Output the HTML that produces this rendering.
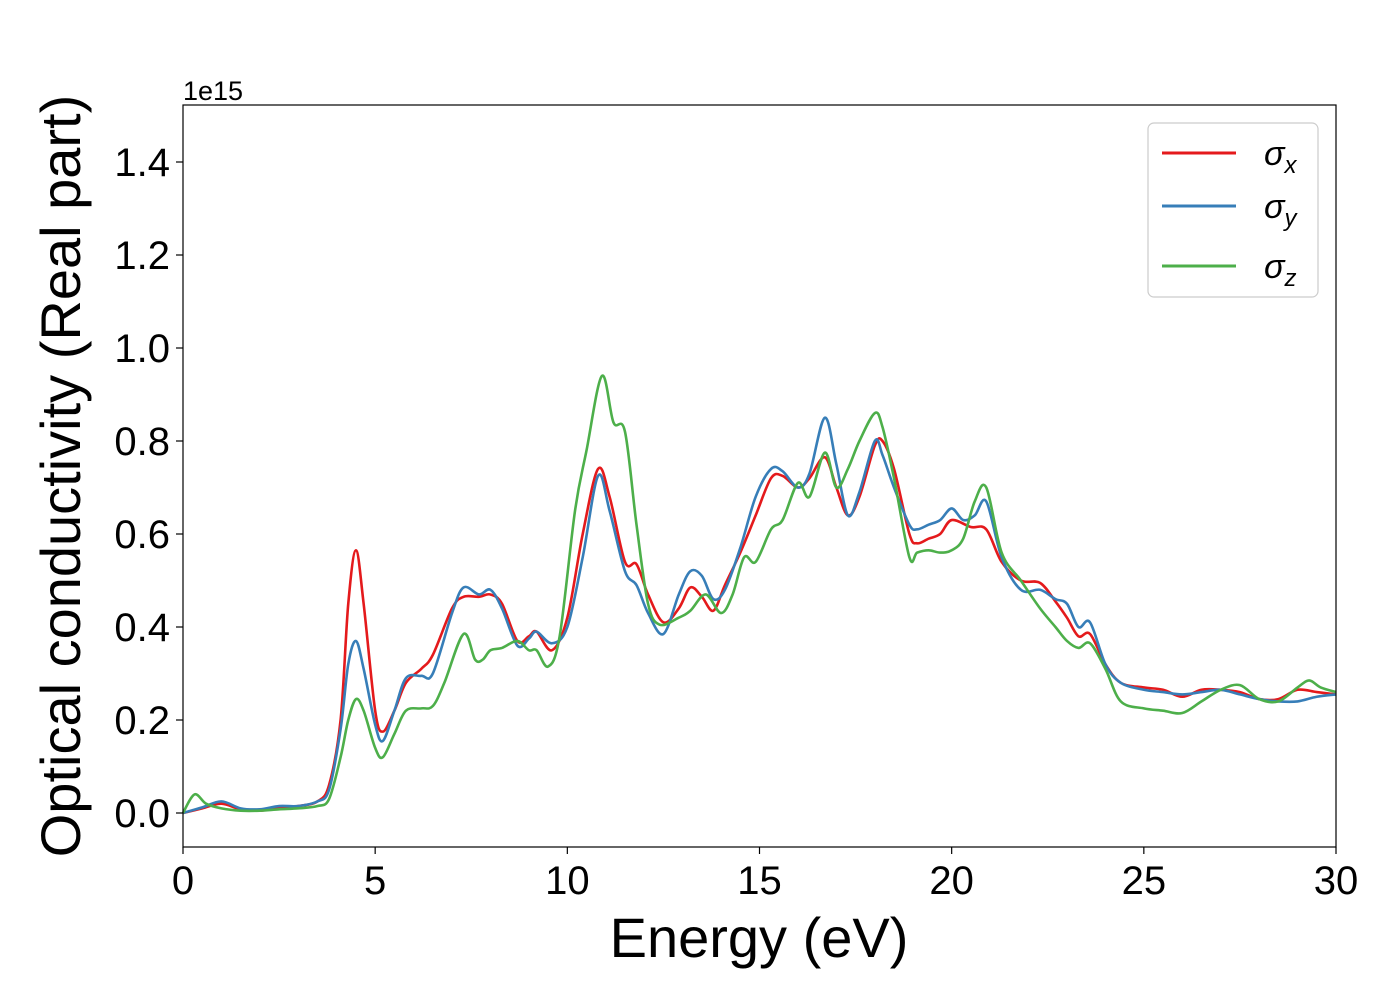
<!DOCTYPE html>
<html><head><meta charset="utf-8"><style>
html,body{margin:0;padding:0;background:#fff;}
svg{display:block;font-family:"Liberation Sans","DejaVu Sans",sans-serif;}
</style></head><body>
<svg id="chart" width="1400" height="1000" viewBox="0 0 1400 1000">
<rect width="1400" height="1000" fill="#fff"/>
<g id="ticks"></g>
<g id="series"></g>
<rect x="183" y="105" width="1153" height="742" fill="none" stroke="#000" stroke-width="1.2"/>
<text x="183" y="100" font-size="27">1e15</text>
<text x="759" y="957" font-size="56" text-anchor="middle">Energy (eV)</text>
<text transform="translate(80,476) rotate(-90)" font-size="56" text-anchor="middle">Optical conductivity (Real part)</text>
<g>
<rect x="1148" y="123" width="170" height="174" rx="6" fill="#fff" fill-opacity="0.8" stroke="#ccc" stroke-width="1.2"/>
<g><line x1="1162" y1="153" x2="1236" y2="153" stroke="#e41a1c" stroke-width="3"/><text x="1264" y="165" font-size="34" font-style="italic">σ<tspan font-size="24" dy="8">x</tspan></text></g>
<g><line x1="1162" y1="206" x2="1236" y2="206" stroke="#377eb8" stroke-width="3"/><text x="1264" y="218" font-size="34" font-style="italic">σ<tspan font-size="24" dy="8">y</tspan></text></g>
<g><line x1="1162" y1="266" x2="1236" y2="266" stroke="#4daf4a" stroke-width="3"/><text x="1264" y="278" font-size="34" font-style="italic">σ<tspan font-size="24" dy="8">z</tspan></text></g>
</g>
</svg>
<script>
const xTicks=[0,5,10,15,20,25,30];
const yTicks=[0.0,0.2,0.4,0.6,0.8,1.0,1.2,1.4];
const yTickLabels=["0.0","0.2","0.4","0.6","0.8","1.0","1.2","1.4"];
const energyX=[0,0.5,1,1.5,2,2.5,3,3.5,3.8,4.1,4.3,4.5,4.7,5,5.2,5.5,5.8,6.2,6.5,7,7.3,7.7,8,8.3,8.7,9,9.2,9.6,10,10.4,10.8,11.1,11.5,11.8,12.1,12.5,12.9,13.2,13.5,13.8,14.1,14.5,14.9,15.3,15.6,16,16.3,16.7,17,17.3,17.6,18,18.2,18.5,18.9,19.1,19.4,19.7,20,20.5,20.9,21.3,21.8,22.3,22.7,23,23.3,23.6,24,24.4,25,25.5,26,26.5,27,27.5,28,28.5,29,29.5,30];
const sigmaX=[0,0.01,0.02,0.008,0.005,0.012,0.015,0.025,0.06,0.2,0.45,0.565,0.45,0.22,0.175,0.22,0.28,0.31,0.34,0.44,0.465,0.465,0.47,0.45,0.37,0.38,0.39,0.35,0.42,0.6,0.74,0.68,0.54,0.535,0.47,0.41,0.44,0.485,0.465,0.435,0.49,0.56,0.64,0.72,0.725,0.70,0.72,0.765,0.70,0.64,0.68,0.79,0.80,0.74,0.60,0.58,0.59,0.60,0.63,0.615,0.61,0.54,0.50,0.495,0.455,0.42,0.38,0.385,0.32,0.28,0.27,0.265,0.25,0.265,0.265,0.26,0.245,0.245,0.265,0.26,0.255];
const energyY=[0,0.5,1,1.5,2,2.5,3,3.5,3.8,4.1,4.3,4.5,4.7,5,5.2,5.5,5.8,6.2,6.5,7,7.3,7.7,8,8.3,8.7,9,9.2,9.6,10,10.4,10.8,11.1,11.5,11.8,12.1,12.5,12.9,13.2,13.5,13.8,14.1,14.5,14.9,15.3,15.6,16,16.3,16.7,17,17.3,17.6,18,18.2,18.5,18.9,19.1,19.4,19.7,20,20.3,20.6,20.9,21.3,21.8,22.3,22.7,23,23.3,23.6,24,24.4,25,25.5,26,26.5,27,27.5,28,28.5,29,29.5,30];
const sigmaY=[0,0.012,0.025,0.01,0.008,0.015,0.015,0.025,0.05,0.18,0.32,0.37,0.31,0.19,0.155,0.22,0.29,0.295,0.30,0.43,0.485,0.47,0.48,0.44,0.36,0.375,0.39,0.365,0.40,0.55,0.725,0.65,0.52,0.49,0.43,0.385,0.47,0.52,0.51,0.46,0.48,0.57,0.68,0.74,0.735,0.70,0.73,0.85,0.75,0.64,0.69,0.80,0.77,0.70,0.62,0.61,0.62,0.63,0.655,0.63,0.64,0.67,0.55,0.48,0.48,0.46,0.45,0.40,0.41,0.32,0.28,0.265,0.26,0.255,0.26,0.265,0.255,0.245,0.24,0.24,0.25,0.255];
const energyZ=[0,0.3,0.6,1,1.5,2,2.5,3,3.5,3.8,4.1,4.3,4.5,4.7,5,5.2,5.5,5.8,6.2,6.5,6.8,7.3,7.6,7.8,8,8.3,8.7,9,9.2,9.5,9.8,10.2,10.5,10.9,11.2,11.5,11.8,12.1,12.4,12.9,13.2,13.6,14,14.3,14.6,14.9,15.3,15.6,16,16.3,16.7,17,17.3,17.6,18,18.2,18.5,18.9,19.1,19.4,19.7,20,20.3,20.6,20.9,21.3,21.8,22.3,22.7,23,23.3,23.6,24,24.4,25,25.5,26,26.5,27,27.5,28,28.5,29,29.3,29.6,30];
const sigmaZ=[0,0.04,0.02,0.01,0.005,0.005,0.008,0.01,0.015,0.03,0.12,0.2,0.245,0.22,0.14,0.12,0.17,0.22,0.225,0.23,0.28,0.385,0.33,0.33,0.35,0.355,0.37,0.35,0.35,0.315,0.38,0.65,0.78,0.94,0.84,0.82,0.62,0.45,0.405,0.42,0.435,0.47,0.43,0.47,0.55,0.54,0.61,0.63,0.71,0.68,0.775,0.70,0.74,0.80,0.86,0.83,0.72,0.55,0.56,0.565,0.56,0.565,0.59,0.67,0.70,0.56,0.50,0.44,0.40,0.37,0.355,0.365,0.31,0.24,0.225,0.22,0.215,0.24,0.265,0.275,0.245,0.24,0.27,0.285,0.27,0.26];

const NS='http://www.w3.org/2000/svg';
function xs(e){return 183+e*(1336-183)/30;}
function ys(v){return 813-v*465;}
const tg=document.getElementById('ticks');
xTicks.forEach(t=>{
 const l=document.createElementNS(NS,'line');
 l.setAttribute('x1',xs(t));l.setAttribute('x2',xs(t));l.setAttribute('y1',847);l.setAttribute('y2',854);l.setAttribute('stroke','#000');l.setAttribute('stroke-width','1.2');
 
 
 tg.appendChild(l);
 const tx=document.createElementNS(NS,'text');
 tx.setAttribute('x',xs(t));tx.setAttribute('y',894);tx.setAttribute('font-size','40');tx.setAttribute('text-anchor','middle');
 tx.textContent=t;
 
 
 tg.appendChild(tx);
});
yTicks.forEach((t,i)=>{
 const l=document.createElementNS(NS,'line');
 l.setAttribute('x1',176);l.setAttribute('x2',183);l.setAttribute('y1',ys(t));l.setAttribute('y2',ys(t));l.setAttribute('stroke','#000');l.setAttribute('stroke-width','1.2');
 
 
 tg.appendChild(l);
 const tx=document.createElementNS(NS,'text');
 tx.setAttribute('x',170);tx.setAttribute('y',ys(t)+14);tx.setAttribute('font-size','40');tx.setAttribute('text-anchor','end');
 tx.textContent=yTickLabels[i];
 
 
 tg.appendChild(tx);
});
function smoothPath(ex,vy){
 const p=ex.map((e,i)=>[xs(e),ys(vy[i])]);
 let d='M'+p[0][0].toFixed(2)+','+p[0][1].toFixed(2);
 for(let i=0;i<p.length-1;i++){
  const p0=p[Math.max(0,i-1)],p1=p[i],p2=p[i+1],p3=p[Math.min(p.length-1,i+2)];
  const c1=[p1[0]+(p2[0]-p0[0])/6,p1[1]+(p2[1]-p0[1])/6];
  const c2=[p2[0]-(p3[0]-p1[0])/6,p2[1]-(p3[1]-p1[1])/6];
  d+=' C'+c1.map(v=>v.toFixed(2)).join(',')+' '+c2.map(v=>v.toFixed(2)).join(',')+' '+p2.map(v=>v.toFixed(2)).join(',');
 }
 return d;
}
const sg=document.getElementById('series');
[[energyX,sigmaX,'#e41a1c','series-sigma-x'],[energyY,sigmaY,'#377eb8','series-sigma-y'],[energyZ,sigmaZ,'#4daf4a','series-sigma-z']].forEach(s=>{
 const path=document.createElementNS(NS,'path');
 path.setAttribute('d',smoothPath(s[0],s[1]));
 path.setAttribute('fill','none');path.setAttribute('stroke',s[2]);path.setAttribute('stroke-width','2.6');
 
 
 sg.appendChild(path);
});
</script>
</body></html>
